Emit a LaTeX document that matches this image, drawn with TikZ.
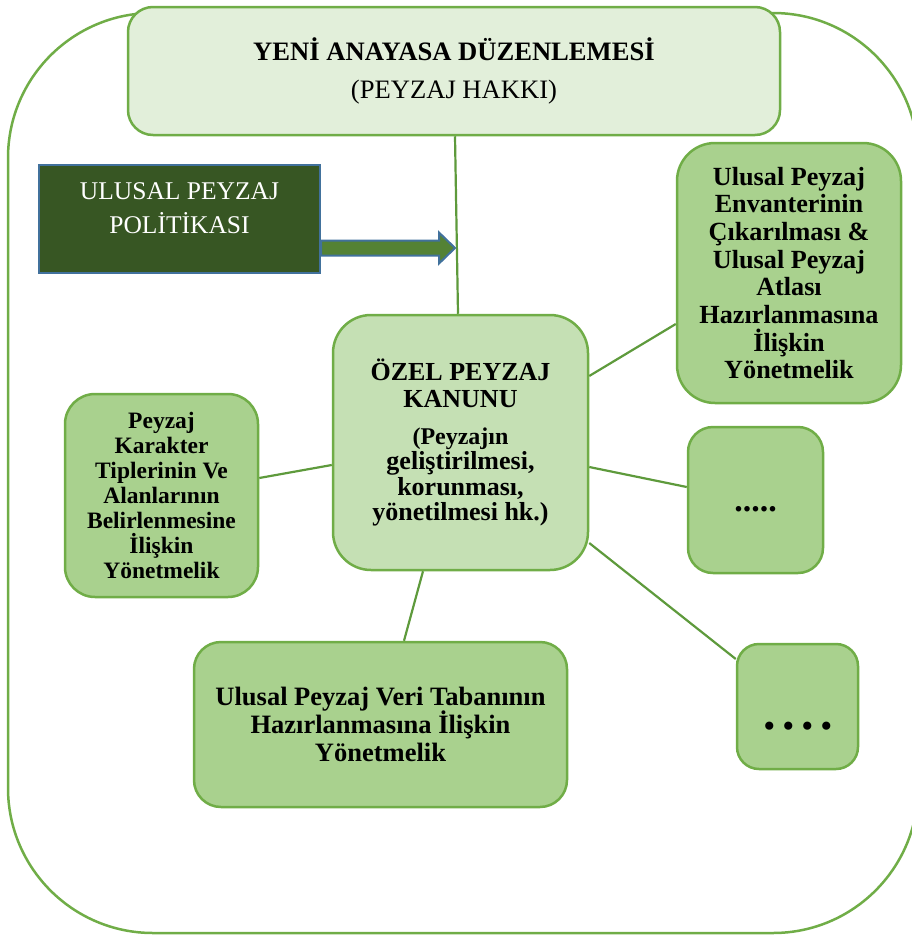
\documentclass[tikz,border=0pt]{standalone}
\usepackage{fontspec}
\setmainfont{Liberation Serif}
\usetikzlibrary{calc}
\setlength{\lineskiplimit}{-100pt}

\definecolor{outline}{HTML}{70AD47}
\definecolor{linkgreen}{HTML}{5E9A3C}
\definecolor{pale}{HTML}{E2EFDA}
\definecolor{midgreen}{HTML}{C5E0B4}
\definecolor{leaf}{HTML}{A9D18E}
\definecolor{forest}{HTML}{375623}
\definecolor{steel}{HTML}{41719C}
\definecolor{arrowfill}{HTML}{548235}

\tikzset{
  greenbox/.style={draw=outline, line width=2.5pt, fill=leaf, align=center,
    inner sep=0pt, text=black},
  link/.style={draw=linkgreen, line width=2.2pt},
}

\begin{document}
\begin{tikzpicture}[x=1pt, y=-1pt]
\useasboundingbox (0,0) rectangle (911,935);

% outer frame
\draw[outline, line width=2.5pt, rounded corners=145pt] (8,13) rectangle (918,933);

% boxes
\node[greenbox, fill=pale, rounded corners=25pt, minimum width=652pt, minimum height=128pt,
      font=\fontsize{26.6}{38}\selectfont] (law) at (454,71)
  {\textbf{YENİ ANAYASA DÜZENLEMESİ}\\(PEYZAJ HAKKI)};

\node[draw=steel, line width=2.2pt, fill=forest, text=white, align=center, inner sep=0pt,
      minimum width=281pt, minimum height=108pt, font=\fontsize{25.5}{34}\selectfont] (policy) at (179.5,219)
  {ULUSAL PEYZAJ\\POLİTİKASI\\[-12pt]\mbox{}};

\node[greenbox, fill=midgreen, rounded corners=38pt, minimum width=255pt, minimum height=255pt,
      font=\bfseries\fontsize{26}{25.5}\selectfont] (act) at (460.5,442.5)
  {ÖZEL PEYZAJ\\[1.5pt]KANUNU\\[11.5pt]\fontsize{24}{25.5}\selectfont (Peyzajın\\geliştirilmesi,\\korunması,\\yönetilmesi hk.)};

\node[greenbox, rounded corners=38pt, minimum width=224pt, minimum height=260pt,
      font=\bfseries\fontsize{26.2}{27.7}\selectfont] (atlas) at (789,273)
  {Ulusal Peyzaj\\Envanterinin\\Çıkarılması \&\\Ulusal Peyzaj\\Atlası\\Hazırlanmasına\\İlişkin\\Yönetmelik};

\node[greenbox, rounded corners=30pt, minimum width=193pt, minimum height=203pt,
      font=\bfseries\fontsize{23.5}{25}\selectfont] (types) at (161.5,495.5)
  {Peyzaj\\Karakter\\Tiplerinin Ve\\Alanlarının\\Belirlenmesine\\İlişkin\\Yönetmelik};

\node[greenbox, rounded corners=25pt, minimum width=135pt, minimum height=146pt] (more1) at (755.5,500) {};
\node[font=\bfseries\fontsize{34}{34}\selectfont, inner sep=0pt] (dots1) at (755.5,509) {.....};

\node[greenbox, rounded corners=22pt, minimum width=121pt, minimum height=125pt] (more2) at (797.5,706.5) {};
\node[font=\bfseries\fontsize{50}{50}\selectfont, inner sep=0pt] (dots2) at (798,726)
  {.\hspace{6.5pt}.\hspace{6.5pt}.\hspace{6.5pt}.};

\node[greenbox, rounded corners=27pt, minimum width=373pt, minimum height=165pt,
      font=\bfseries\fontsize{26.5}{28}\selectfont] (data) at (380.5,724.5)
  {Ulusal Peyzaj Veri Tabanının\\Hazırlanmasına İlişkin\\Yönetmelik};

% connectors
\draw[link] ([xshift=1pt]law.south) -- ([xshift=-2.5pt]act.north);
\draw[link] ([yshift=-22.5pt]act.west) -- ([yshift=17.5pt]types.east);
\draw[link] ([yshift=66.5pt]act.east) -- ([yshift=-51pt]atlas.west);
\draw[link] ([yshift=-24.5pt]act.east) -- ([yshift=13pt]more1.west);
\draw[link] ([yshift=-100.5pt]act.east) -- ([yshift=47.5pt]more2.west);
\draw[link] ([xshift=-37.5pt]act.south) -- ([xshift=23.5pt]data.north);

% block arrow from the policy box to the vertical link
\coordinate (tail) at ([yshift=-29pt]policy.east);
\coordinate (tip) at (455,248);
\draw[steel, line width=2pt, fill=arrowfill, line join=miter]
  ([yshift=7.5pt]tail) -- ([xshift=-16pt,yshift=7.5pt]tip) -- ([xshift=-16pt,yshift=15.5pt]tip)
  -- (tip) -- ([xshift=-16pt,yshift=-15.5pt]tip) -- ([xshift=-16pt,yshift=-7.5pt]tip)
  -- ([yshift=-7.5pt]tail) -- cycle;
\end{tikzpicture}
\end{document}
